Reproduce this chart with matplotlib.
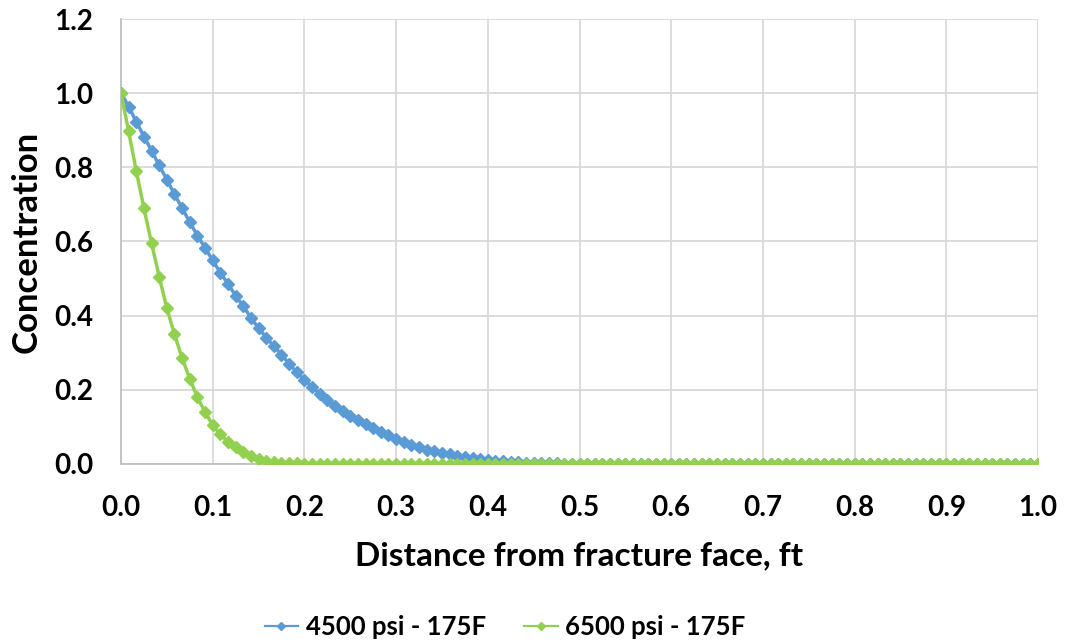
import matplotlib
matplotlib.use('Agg')
import matplotlib.pyplot as plt
import numpy as np

# distance from fracture face, ft (121 evenly spaced samples, 0 .. 1)
n_pts = 121
distance = np.linspace(0.0, 1.0, n_pts)

conc_4500 = [
    1.000, 0.964, 0.923, 0.883, 0.845, 0.805, 0.767, 0.727, 0.690, 0.652,
    0.616, 0.583, 0.549, 0.516, 0.486, 0.454, 0.426, 0.394, 0.367, 0.341,
    0.318, 0.295, 0.270, 0.248, 0.227, 0.208, 0.190, 0.173, 0.157, 0.143,
    0.130, 0.118, 0.107, 0.096, 0.086, 0.077, 0.068, 0.060, 0.052, 0.045,
    0.039, 0.034, 0.030, 0.026, 0.022, 0.018, 0.015, 0.013, 0.011, 0.009,
    0.007, 0.006, 0.005, 0.004, 0.003, 0.003, 0.002, 0.002, 0.001, 0.001,
    0.001, 0.000, 0.000, 0.000, 0.000, 0.000, 0.000, 0.000, 0.000, 0.000,
    0.000, 0.000, 0.000, 0.000, 0.000, 0.000, 0.000, 0.000, 0.000, 0.000,
    0.000, 0.000, 0.000, 0.000, 0.000, 0.000, 0.000, 0.000, 0.000, 0.000,
    0.000, 0.000, 0.000, 0.000, 0.000, 0.000, 0.000, 0.000, 0.000, 0.000,
    0.000, 0.000, 0.000, 0.000, 0.000, 0.000, 0.000, 0.000, 0.000, 0.000,
    0.000, 0.000, 0.000, 0.000, 0.000, 0.000, 0.000, 0.000, 0.000, 0.000,
    0.000,
]

conc_6500 = [
    1.000, 0.897, 0.790, 0.690, 0.595, 0.505, 0.420, 0.350, 0.285, 0.230,
    0.180, 0.140, 0.105, 0.080, 0.060, 0.045, 0.032, 0.021, 0.014, 0.009,
    0.006, 0.004, 0.003, 0.002, 0.001, 0.001, 0.000, 0.000, 0.000, 0.000,
    0.000, 0.000, 0.000, 0.000, 0.000, 0.000, 0.000, 0.000, 0.000, 0.000,
    0.000, 0.000, 0.000, 0.000, 0.000, 0.000, 0.000, 0.000, 0.000, 0.000,
    0.000, 0.000, 0.000, 0.000, 0.000, 0.000, 0.000, 0.000, 0.000, 0.000,
    0.000, 0.000, 0.000, 0.000, 0.000, 0.000, 0.000, 0.000, 0.000, 0.000,
    0.000, 0.000, 0.000, 0.000, 0.000, 0.000, 0.000, 0.000, 0.000, 0.000,
    0.000, 0.000, 0.000, 0.000, 0.000, 0.000, 0.000, 0.000, 0.000, 0.000,
    0.000, 0.000, 0.000, 0.000, 0.000, 0.000, 0.000, 0.000, 0.000, 0.000,
    0.000, 0.000, 0.000, 0.000, 0.000, 0.000, 0.000, 0.000, 0.000, 0.000,
    0.000, 0.000, 0.000, 0.000, 0.000, 0.000, 0.000, 0.000, 0.000, 0.000,
    0.000,
]

series_labels = ['4500 psi - 175F', '6500 psi - 175F']
x_ticks = [0.0, 0.1, 0.2, 0.3, 0.4, 0.5, 0.6, 0.7, 0.8, 0.9, 1.0]
y_ticks = [0.0, 0.2, 0.4, 0.6, 0.8, 1.0, 1.2]

plt.rcParams['font.family'] = ['Lato', 'DejaVu Sans']
plt.rcParams['font.weight'] = 'bold'

fig = plt.figure(figsize=(10.68, 6.4), dpi=100)
ax = fig.add_axes([121 / 1068, 176 / 640, 917 / 1068, 445 / 640])

ax.plot(distance, conc_4500, color='#5B9BD5', lw=2.5, marker='D',
        markersize=5.8, label=series_labels[0], zorder=3)
ax.plot(distance, conc_6500, color='#92D050', lw=2.5, marker='D',
        markersize=5.8, label=series_labels[1], zorder=4)

ax.set_xlim(0, 1.0)
ax.set_ylim(0, 1.2)
ax.set_xticks(x_ticks)
ax.set_yticks(y_ticks)
ax.set_xticklabels([f'{v:.1f}' for v in x_ticks])
ax.set_yticklabels([f'{v:.1f}' for v in y_ticks])
ax.tick_params(axis='both', length=0, labelsize=20)
ax.tick_params(axis='x', pad=22)
ax.tick_params(axis='y', pad=20)

ax.grid(True, color='#D9D9D9', lw=1.3)
ax.set_axisbelow(True)
for side in ['top', 'right']:
    ax.spines[side].set_visible(False)
for side in ['left', 'bottom']:
    ax.spines[side].set_color('#BFBFBF')
    ax.spines[side].set_linewidth(1.3)

ax.set_xlabel('Distance from fracture face, ft', fontsize=24, fontweight='bold', labelpad=15)
ax.set_ylabel('Concentration', fontsize=25, fontweight='bold', labelpad=8)

fig.legend(loc='center', bbox_to_anchor=(0.473, 0.02), ncol=2, frameon=False,
           fontsize=18.5, handlelength=1.3, columnspacing=1.5, handletextpad=0.3,
           markerscale=0.7)
for line in fig.legends[0].get_lines():
    line.set_linewidth(1.6)

fig.savefig('out.png', dpi=100)
